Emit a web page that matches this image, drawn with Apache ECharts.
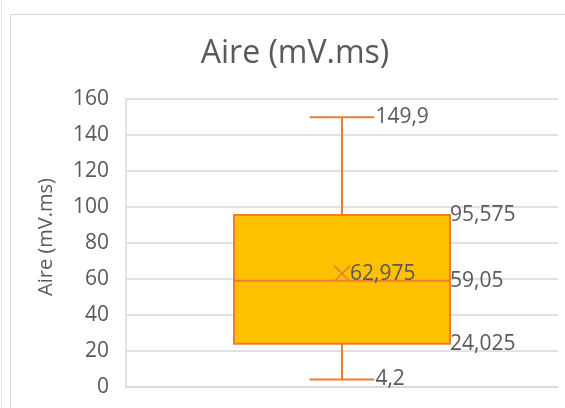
<!DOCTYPE html>
<html><head><meta charset="utf-8">
<script src="https://cdn.jsdelivr.net/npm/echarts@6/dist/echarts.min.js"></script>
<style>html,body{margin:0;padding:0;background:#fff}#c{width:565px;height:408px}</style>
</head><body><div id="c"></div>
<script>
const categories = ['Aire'];
const minValues = [4.2];
const q1Values = [24.025];
const medianValues = [59.05];
const q3Values = [95.575];
const maxValues = [149.9];
const meanValues = [62.975];
const yMin = 0, yMax = 160, yStep = 20;
const titleText = 'Aire (mV.ms)';
const yAxisName = 'Aire (mV.ms)';

const fmt = v => String(v).replace('.', ',');
const FONT = '"Open Sans", sans-serif';
const LABEL_COLOR = '#595959';
const LINE = '#ED7D31';
const FILL = '#FFC000';
const GRID = '#D9D9D9';

const boxData = categories.map((c, i) => [i, minValues[i], q1Values[i], medianValues[i], q3Values[i], maxValues[i], meanValues[i]]);

function renderBox(params, api) {
  const idx = api.value(0);
  const vals = [1, 2, 3, 4, 5, 6].map(k => api.value(k));
  const band = api.size([1, 0])[0];
  const cx = api.coord([idx, 0])[0];
  const y = v => api.coord([idx, v])[1];
  const boxW = band * 0.5, capW = boxW * 0.3;
  const bl = cx - boxW / 2, br = cx + boxW / 2;
  const yMinP = y(vals[0]), yQ1 = y(vals[1]), yMed = y(vals[2]), yQ3 = y(vals[3]), yMaxP = y(vals[4]), yMean = y(vals[5]);
  const ls = { stroke: LINE, lineWidth: 2 };
  const txt = (text, x, yy) => ({ type: 'text', style: { text, x, y: yy, fill: LABEL_COLOR, fontSize: 21, fontFamily: FONT, align: 'left', verticalAlign: 'middle' } });
  const m = 8;
  return { type: 'group', children: [
    { type: 'line', shape: { x1: cx, y1: yMaxP, x2: cx, y2: yQ3 }, style: ls },
    { type: 'line', shape: { x1: cx, y1: yQ1, x2: cx, y2: yMinP }, style: ls },
    { type: 'line', shape: { x1: cx - capW / 2, y1: yMaxP, x2: cx + capW / 2, y2: yMaxP }, style: ls },
    { type: 'line', shape: { x1: cx - capW / 2, y1: yMinP, x2: cx + capW / 2, y2: yMinP }, style: ls },
    { type: 'rect', shape: { x: bl, y: yQ3, width: boxW, height: yQ1 - yQ3 }, style: { fill: FILL, stroke: LINE, lineWidth: 2 } },
    { type: 'line', shape: { x1: bl, y1: yMed, x2: br, y2: yMed }, style: ls },
    { type: 'line', shape: { x1: cx - m, y1: yMean - m, x2: cx + m, y2: yMean + m }, style: { stroke: LINE, lineWidth: 1.5 } },
    { type: 'line', shape: { x1: cx - m, y1: yMean + m, x2: cx + m, y2: yMean - m }, style: { stroke: LINE, lineWidth: 1.5 } },
    txt(fmt(vals[4]), cx + capW / 2 + 1, yMaxP),
    txt(fmt(vals[3]), br, yQ3),
    txt(fmt(vals[2]), br, yMed),
    txt(fmt(vals[1]), br, yQ1),
    txt(fmt(vals[0]), cx + capW / 2 + 1, yMinP),
    txt(fmt(vals[5]), cx + m, yMean)
  ]};
}

const chart = echarts.init(document.getElementById('c'), null, { renderer: 'canvas' });
chart.setOption({
  animation: false,
  backgroundColor: '#fff',
  textStyle: { fontFamily: FONT },
  title: {
    text: titleText, left: 295, top: 38, textAlign: 'center', padding: 0,
    textStyle: { fontFamily: FONT, fontSize: 32, fontWeight: 'normal', color: LABEL_COLOR }
  },
  graphic: [
    { type: 'rect', shape: { x: 10.5, y: 14.5, width: 700, height: 600 }, style: { fill: 'none', stroke: GRID, lineWidth: 1 }, silent: true, z: -10 },
    { type: 'line', shape: { x1: 1.5, y1: 0, x2: 1.5, y2: 408 }, style: { stroke: '#E6E6E6', lineWidth: 1 }, silent: true, z: -10 }
  ],
  grid: { left: 126, right: 7, top: 99, bottom: 21 },
  xAxis: {
    type: 'category', data: categories,
    axisLine: { show: true, lineStyle: { color: GRID, width: 1.5 } },
    axisTick: { show: false }, axisLabel: { show: false }, splitLine: { show: false }
  },
  yAxis: {
    type: 'value', min: yMin, max: yMax, interval: yStep,
    name: yAxisName, nameLocation: 'middle', nameGap: 70,
    nameTextStyle: { fontFamily: FONT, fontSize: 20, color: LABEL_COLOR, padding: [0, 0, 0, 12] },
    axisLine: { show: true, lineStyle: { color: GRID, width: 1.5 } },
    axisTick: { show: false },
    axisLabel: { fontFamily: FONT, fontSize: 21, color: LABEL_COLOR, margin: 17 },
    splitLine: { show: true, lineStyle: { color: GRID, width: 1.5 } }
  },
  series: [{
    type: 'custom', renderItem: renderBox, data: boxData,
    encode: { x: 0, y: [1, 2, 3, 4, 5, 6] }, z: 5
  }]
});
</script></body></html>
